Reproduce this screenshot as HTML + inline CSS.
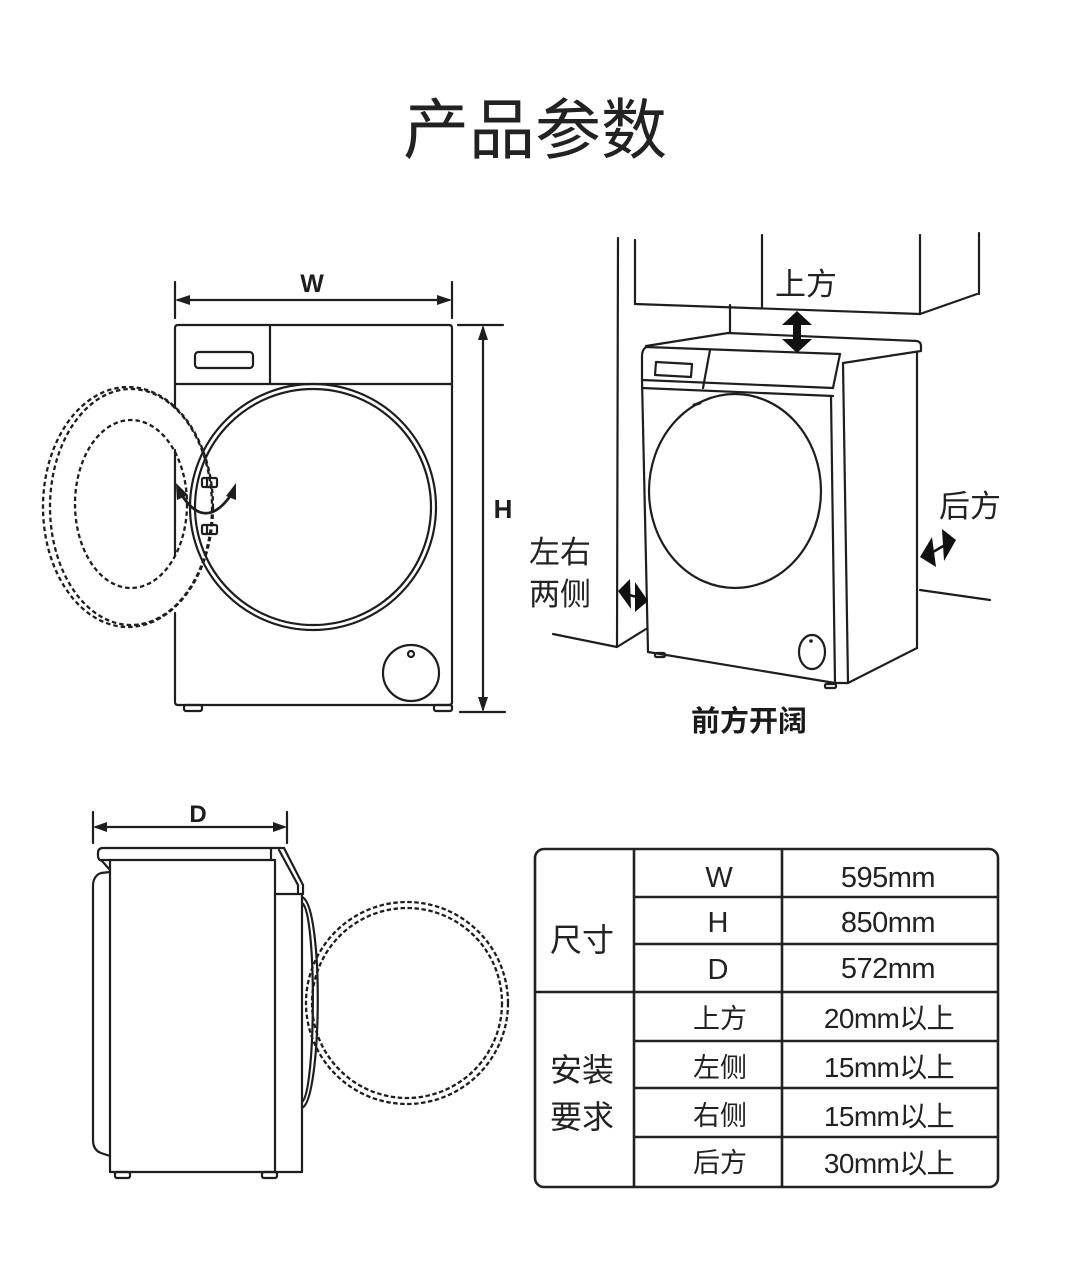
<!DOCTYPE html>
<html><head><meta charset="utf-8">
<style>
html,body{margin:0;padding:0;background:#fff;}
body{width:1070px;height:1272px;overflow:hidden;position:relative;}
svg{position:absolute;left:0;top:0;}
.cjk{font-family:"Liberation Sans","Noto Sans CJK SC",sans-serif;}
</style></head>
<body>
<svg width="1070" height="1272" viewBox="0 0 1070 1272" xmlns="http://www.w3.org/2000/svg">
<rect width="1070" height="1272" fill="#fff"/>

<!-- Title -->
<text x="535" y="153" text-anchor="middle" class="cjk" font-size="66" fill="#222" font-family="Liberation Sans, Noto Sans CJK SC, sans-serif">产品参数</text>

<!-- ============ FRONT VIEW ============ -->
<g fill="none" stroke="#1e1e1e" stroke-width="2.2" stroke-linecap="round" stroke-linejoin="round">
  <!-- W dimension -->
  <line x1="175" y1="282" x2="175" y2="318"/>
  <line x1="452" y1="282" x2="452" y2="318"/>
  <line x1="178" y1="300" x2="449" y2="300"/>
  <!-- H dimension -->
  <line x1="458" y1="325" x2="503" y2="325"/>
  <line x1="460" y1="712" x2="505" y2="712"/>
  <line x1="483" y1="328" x2="483" y2="709"/>
  <!-- body -->
  <path d="M175,408 L175,328 Q175,325 178,325 L449,325 Q452,325 452,328 L452,702 Q452,705 449,705 L178,705 Q175,705 175,702 L175,613"/>
  <path d="M175,450 L175,555"/>
  <line x1="175" y1="384" x2="452" y2="384"/>
  <line x1="270" y1="325" x2="270" y2="384"/>
  <rect x="195" y="352" width="58" height="16" rx="3.5"/>
  <!-- door -->
  <circle cx="313" cy="507" r="123"/>
  <circle cx="313" cy="507" r="118"/>
  <!-- knob -->
  <circle cx="411" cy="673" r="28"/>
  <circle cx="411" cy="654" r="3"/>
  <!-- feet -->
  <rect x="184" y="705" width="18" height="6" rx="2"/>
  <rect x="434" y="705" width="18" height="6" rx="2"/>
  <!-- hinges -->
  <rect x="202" y="478" width="15" height="9" rx="1.5"/>
  <line x1="207" y1="478" x2="207" y2="487"/>
  <rect x="202" y="525" width="15" height="9" rx="1.5"/>
  <line x1="207" y1="525" x2="207" y2="534"/>
  <!-- curved arrow -->
  <path d="M181,494 Q205,532 231,495" stroke-width="2.8"/>
</g>
<g fill="#1e1e1e" stroke="none">
  <polygon points="175,300 190,295 190,305"/>
  <polygon points="452,300 437,295 437,305"/>
  <polygon points="483,325 478,340 488,340"/>
  <polygon points="483,712 478,697 488,697"/>
  <polygon points="176,483 188,495 177,500"/>
  <polygon points="236,483 226,496 236,500"/>
</g>
<!-- dashed open door -->
<g fill="none" stroke="#1e1e1e" stroke-width="2.3" stroke-dasharray="4.5 3">
  <ellipse cx="128" cy="507" rx="85" ry="120"/>
  <ellipse cx="131" cy="507" rx="81" ry="118"/>
  <ellipse cx="131" cy="504" rx="56" ry="84"/>
</g>
<text x="312" y="292" text-anchor="middle" font-family="Liberation Sans, sans-serif" font-weight="bold" font-size="25" fill="#1e1e1e">W</text>
<text x="503" y="518" text-anchor="middle" font-family="Liberation Sans, sans-serif" font-weight="bold" font-size="26" fill="#1e1e1e">H</text>

<!-- ============ PERSPECTIVE VIEW ============ -->
<g fill="none" stroke="#1e1e1e" stroke-width="2.2" stroke-linecap="round" stroke-linejoin="round">
  <!-- wall -->
  <line x1="618" y1="238" x2="617" y2="647"/>
  <polyline points="553,634 617,647 646,629"/>
  <!-- cabinet -->
  <line x1="635" y1="240" x2="635" y2="304"/>
  <line x1="635" y1="304" x2="920" y2="314"/>
  <line x1="762" y1="235" x2="762" y2="307"/>
  <line x1="920" y1="235" x2="920" y2="314"/>
  <line x1="920" y1="314" x2="977" y2="294"/>
  <line x1="979" y1="233" x2="979" y2="294"/>
  <line x1="730" y1="305" x2="730" y2="333"/>
  <!-- right floor -->
  <line x1="920" y1="590" x2="990" y2="600"/>
  <!-- machine top -->
  <path d="M646,346 L728,333 L917,341 Q921,342 921,346 L921,351 L843,363"/>
  <line x1="646" y1="347" x2="840" y2="354"/>
  <!-- control panel -->
  <path d="M646,347 Q642,350 642,356 L642,380"/>
  <line x1="840" y1="354" x2="833" y2="388"/>
  <line x1="642" y1="380" x2="833" y2="388"/>
  <line x1="642" y1="388" x2="833" y2="396"/>
  <line x1="710" y1="350" x2="703" y2="388"/>
  <polygon points="656,362 692,364 691,377 655,375"/>
  <!-- front face -->
  <line x1="642" y1="380" x2="648" y2="652"/>
  <line x1="831" y1="396" x2="835" y2="683"/>
  <line x1="843" y1="363" x2="848" y2="683"/>
  <line x1="917" y1="352" x2="917" y2="648"/>
  <polyline points="648,652 835,683 848,683 917,648"/>
  <!-- feet -->
  <rect x="655" y="653" width="10" height="4" rx="1.5"/>
  <rect x="825" y="684" width="11" height="4" rx="1.5"/>
  <!-- door -->
  <ellipse cx="735" cy="491" rx="86" ry="97"/>
  <line x1="694" y1="405" x2="700" y2="403" stroke-width="3"/>
  <!-- knob -->
  <ellipse cx="812" cy="652" rx="13" ry="17"/>
</g>
<circle cx="811" cy="641" r="1.8" fill="#1e1e1e"/>
<g fill="#111" stroke="none">
  <!-- up arrow -->
  <polygon points="797,311 812,325 801,325 801,339 812,339 797,353 782,339 793,339 793,325 782,325"/>
  <!-- left/right arrow -->
  <polygon points="618,591 630,579 631,609"/>
  <polygon points="648,601 635,582 635,612"/>
  <!-- back arrow -->
  <polygon points="920,557 932,537 936,567"/>
  <polygon points="956,540 942,529 944,561"/>
</g>
<line x1="629" y1="595" x2="637" y2="597" stroke="#111" stroke-width="2.5"/>
<line x1="933" y1="552" x2="945" y2="545" stroke="#111" stroke-width="2.5"/>

<text x="775" y="295" class="cjk" font-size="31" fill="#222" font-family="Liberation Sans, Noto Sans CJK SC, sans-serif">上方</text>
<text x="939" y="517" class="cjk" font-size="31" fill="#222" font-family="Liberation Sans, Noto Sans CJK SC, sans-serif">后方</text>
<text x="529" y="563" class="cjk" font-size="31" fill="#222" font-family="Liberation Sans, Noto Sans CJK SC, sans-serif">左右</text>
<text x="529" y="605" class="cjk" font-size="31" fill="#222" font-family="Liberation Sans, Noto Sans CJK SC, sans-serif">两侧</text>
<text x="749" y="731" text-anchor="middle" class="cjk" font-size="29" font-weight="bold" fill="#1a1a1a" font-family="Liberation Sans, Noto Sans CJK SC, sans-serif">前方开阔</text>

<!-- ============ SIDE VIEW ============ -->
<g fill="none" stroke="#1e1e1e" stroke-width="2.2" stroke-linecap="round" stroke-linejoin="round">
  <!-- D dimension -->
  <line x1="93" y1="812" x2="93" y2="843"/>
  <line x1="287" y1="812" x2="287" y2="843"/>
  <line x1="96" y1="827" x2="284" y2="827"/>
  <!-- slab -->
  <path d="M284,848 L103,848 Q98,848 98,853 L98,856 Q98,860 102,861 L110,870"/>
  <line x1="101" y1="860" x2="275" y2="860"/>
  <line x1="271" y1="848" x2="271" y2="860"/>
  <!-- slanted front -->
  <line x1="284" y1="848" x2="303" y2="885"/>
  <line x1="279" y1="850" x2="298" y2="885"/>
  <line x1="303" y1="885" x2="303" y2="894"/>
  <line x1="298" y1="885" x2="298" y2="894"/>
  <line x1="275" y1="894" x2="302" y2="894"/>
  <!-- body -->
  <line x1="110" y1="860" x2="110" y2="1172"/>
  <line x1="275" y1="860" x2="275" y2="1172"/>
  <line x1="110" y1="1172" x2="302" y2="1172"/>
  <line x1="302" y1="894" x2="302" y2="1172"/>
  <!-- back bump -->
  <path d="M110,872 L101,873 Q93,876 93,886 L93,1140 Q93,1150 101,1153 L110,1156"/>
  <!-- door bulge -->
  <path d="M302,897 C324,905 322,1100 302,1108"/>
  <path d="M302,903 C317,912 316,1092 302,1102"/>
  <!-- feet -->
  <rect x="115" y="1172" width="15" height="6" rx="2"/>
  <rect x="262" y="1172" width="15" height="6" rx="2"/>
</g>
<g fill="#1e1e1e">
  <polygon points="93,827 107,822 107,832"/>
  <polygon points="287,827 273,822 273,832"/>
</g>
<g fill="none" stroke="#1e1e1e" stroke-width="2.3" stroke-dasharray="4.5 2.5">
  <circle cx="407" cy="1003" r="101"/>
  <circle cx="407" cy="1003" r="95"/>
</g>
<text x="198" y="822" text-anchor="middle" font-family="Liberation Sans, sans-serif" font-weight="bold" font-size="24" fill="#1e1e1e">D</text>

<!-- ============ TABLE ============ -->
<g fill="none" stroke="#222" stroke-width="2.6">
  <rect x="535" y="849" width="463" height="338" rx="9"/>
  <line x1="634" y1="849" x2="634" y2="1187"/>
  <line x1="782" y1="849" x2="782" y2="1187"/>
  <line x1="634" y1="897" x2="998" y2="897"/>
  <line x1="634" y1="944" x2="998" y2="944"/>
  <line x1="535" y1="992" x2="998" y2="992"/>
  <line x1="634" y1="1041" x2="998" y2="1041"/>
  <line x1="634" y1="1088" x2="998" y2="1088"/>
  <line x1="634" y1="1137" x2="998" y2="1137"/>
</g>
<g fill="#222" font-family="Liberation Sans, Noto Sans CJK SC, sans-serif" text-anchor="middle">
  <text x="719" y="887" font-size="29">W</text>
  <text x="718" y="932" font-size="29">H</text>
  <text x="718" y="979" font-size="29">D</text>
  <text x="888" y="887" font-size="29" letter-spacing="-0.5">595mm</text>
  <text x="888" y="932" font-size="29" letter-spacing="-0.5">850mm</text>
  <text x="888" y="978" font-size="29" letter-spacing="-0.5">572mm</text>
  <text x="889" y="1028" font-size="28" letter-spacing="-0.6">20mm以上</text>
  <text x="889" y="1077" font-size="28" letter-spacing="-0.6">15mm以上</text>
  <text x="889" y="1126" font-size="28" letter-spacing="-0.6">15mm以上</text>
  <text x="889" y="1173" font-size="28" letter-spacing="-0.6">30mm以上</text>
  <text x="720" y="1028" font-size="27">上方</text>
  <text x="720" y="1077" font-size="27">左侧</text>
  <text x="720" y="1125" font-size="27">右侧</text>
  <text x="720" y="1172" font-size="27">后方</text>
  <text x="582" y="951" font-size="32">尺寸</text>
  <text x="582" y="1081" font-size="32">安装</text>
  <text x="582" y="1128" font-size="32">要求</text>
</g>
</svg>
</body></html>
